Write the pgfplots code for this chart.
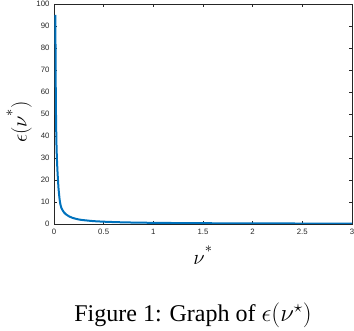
\documentclass[border=0pt]{standalone}
\usepackage{pgfplots}
\pgfplotsset{compat=1.18}
\usepackage{fontspec}
\setmainfont{Liberation Serif}
\newfontfamily\tickfont{Liberation Sans}
\definecolor{mblue}{HTML}{0072BD}
\definecolor{maxis}{HTML}{262626}

\begin{document}
\begin{tikzpicture}[x=1pt,y=1pt]
\path[use as bounding box] (0,0) rectangle (354,330);
\begin{axis}[
  at={(54pt,106pt)}, anchor=south west,
  scale only axis,
  width=298pt, height=220pt,
  xmin=0, xmax=3, ymin=0, ymax=100,
  xtick={0,0.5,...,3},
  ytick={0,10,...,100},
  xticklabels={0,0.5,1,1.5,2,2.5,3},
  tick align=inside,
  major tick length=3pt,
  tick style={maxis, line width=0.4pt},
  axis line style={maxis, line width=0.5pt},
  tick label style={font=\tickfont\fontsize{7.8}{8}\selectfont, text=maxis},
  /pgf/number format/assume math mode=true,
  xticklabel style={yshift=-2pt},
  yticklabel style={xshift=-1pt},
  clip=true,
]
\addplot[mblue, line width=2pt, smooth] coordinates {
  (0.014,95) (0.016,72) (0.018,60) (0.020,50) (0.022,44) (0.024,38)
  (0.027,33) (0.030,29) (0.035,24) (0.040,20) (0.045,16.5) (0.050,14)
  (0.057,11) (0.065,8.8) (0.075,7.2) (0.090,6.0) (0.10,5.3) (0.12,4.4)
  (0.15,3.5) (0.18,2.9) (0.225,2.3) (0.27,1.9) (0.33,1.6) (0.4,1.3)
  (0.5,1.05) (0.6,0.88) (0.75,0.7) (1.0,0.53) (1.25,0.43) (1.5,0.36)
  (1.75,0.31) (2.0,0.27) (2.5,0.22) (3.0,0.18)
};
\end{axis}
\node[rotate=90, font=\fontsize{20}{22}\selectfont] at (19,208) {$\epsilon(\nu^{\raisebox{0.3em}{$\scriptstyle *$}})$};
\node[anchor=base, font=\fontsize{20}{22}\selectfont] at (203,66) {$\nu^{\raisebox{0.2em}{$\scriptstyle *$}}$};
\node[anchor=base, font=\fontsize{24}{28}\selectfont] at (193,8.3) {Figure 1: Graph of $\epsilon(\nu^{\star})$};
\end{tikzpicture}
\end{document}
